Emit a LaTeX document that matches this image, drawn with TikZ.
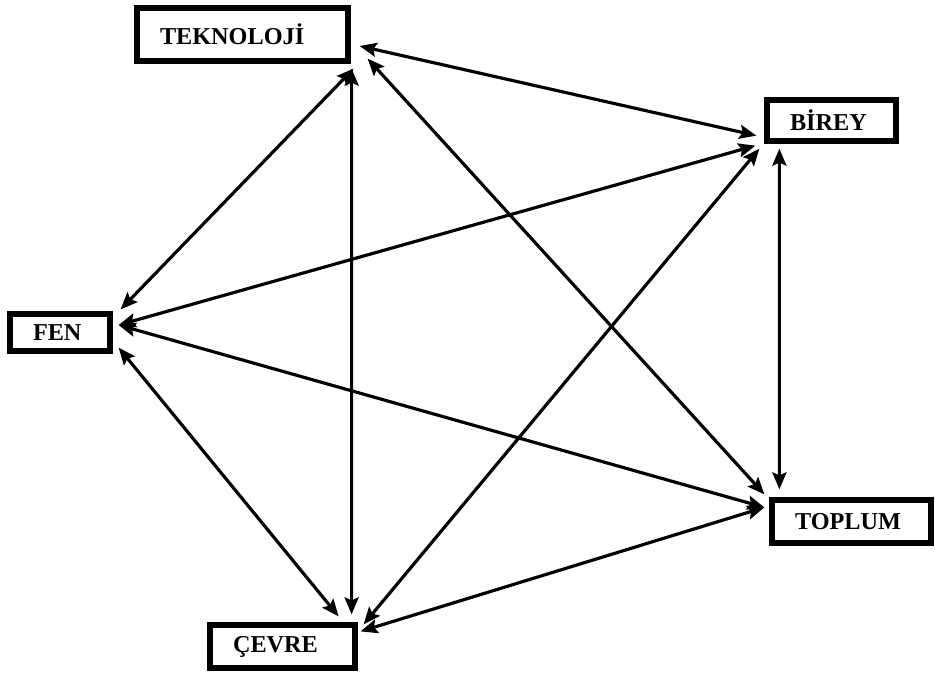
\documentclass[tikz,border=0pt]{standalone}
\usepackage{fontspec}
\setmainfont{Liberation Serif}
\usepackage{tikz}
\usetikzlibrary{
    positioning,
    arrows.meta
}

\begin{document}
\begin{tikzpicture}[
    x=0.02cm, y=-0.02cm,
    box/.style={rectangle, draw, line width=3pt, inner xsep=0.46cm, inner ysep=0pt, align=left, font=\fontsize{13.8}{16}\selectfont\bfseries},
    arr/.style={line width=1.8pt, {Stealth[length=3.4mm, width=2.8mm, inset=0.6mm]}-{Stealth[length=3.4mm, width=2.8mm, inset=0.6mm]}},
]
\useasboundingbox (0,0) rectangle (935,673);

\node[box, minimum width=4.22cm, minimum height=1.06cm, text width=3.30cm] (tek) at (242.5,34.5) {TEKNOLOJİ};
\node[box, minimum width=2.58cm, minimum height=0.82cm, text width=1.66cm] (bir) at (831.5,120.5) {BİREY};
\node[box, minimum width=2.00cm, minimum height=0.74cm, text width=1.08cm] (fen) at (60,332.5) {FEN};
\node[box, minimum width=3.18cm, minimum height=0.86cm, text width=2.26cm] (top) at (851.5,521.5) {TOPLUM};
\node[box, minimum width=2.90cm, minimum height=0.86cm, text width=1.98cm] (cev) at (282.5,646.5) {ÇEVRE};

% teknoloji
\draw[arr] ([shift={(3,5)}]tek.south east) -- ([shift={(8,-2)}]fen.north east);
\draw[arr] ([shift={(1,5)}]tek.south east) -- ([shift={(-6,-8)}]cev.north east);
\draw[arr] ([shift={(9,11.5)}]tek.east) -- ([shift={(-8,-8)}]bir.south west);
\draw[arr] ([shift={(17,-5)}]tek.south east) -- ([shift={(-5,-3)}]top.north west);
% fen
\draw[arr] ([shift={(6,-7.5)}]fen.east) -- ([shift={(-9,2)}]bir.south west);
\draw[arr] ([shift={(6,-7.5)}]fen.east) -- ([shift={(-5,10)}]top.north west);
\draw[arr] ([shift={(6,-6)}]fen.south east) -- ([shift={(-19,-6)}]cev.north east);
% birey, toplum
\draw[arr] ([shift={(-5,5)}]bir.south west) -- ([shift={(6,2)}]cev.north east);
\draw[arr] ([shift={(15,5)}]bir.south west) -- ([shift={(10,-8)}]top.north west);
\draw[arr] ([shift={(-5,10)}]top.north west) -- ([shift={(3,9)}]cev.north east);
\end{tikzpicture}
\end{document}
